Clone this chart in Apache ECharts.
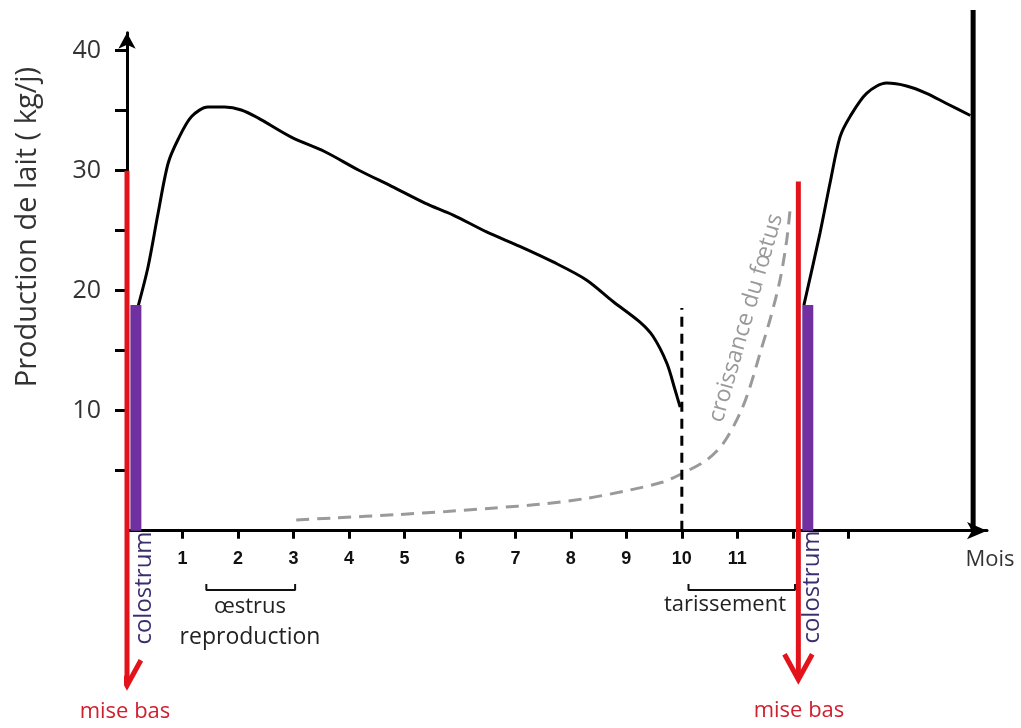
<!DOCTYPE html>
<html><head><meta charset="utf-8">
<script src="https://cdn.jsdelivr.net/npm/echarts@6/dist/echarts.min.js"></script>
<style>html,body{margin:0;padding:0;background:#fff}#c{width:1021px;height:728px}</style>
</head><body><div id="c"></div>
<script>
// ---- data ----
const monthTicks = [1,2,3,4,5,6,7,8,9,10,11,12,13];
const monthLabels = [1,2,3,4,5,6,7,8,9,10,11];
const yTicks = [5,10,15,20,25,30,35,40];
const yLabels = [10,20,30,40];
const lactation1 = [[0.2,18.7],[0.38,22],[0.56,26.45],[0.74,30.6],[0.92,32.6],[1.16,34.5],[1.46,35.3],[1.76,35.3],[2.06,35.06],[2.36,34.4],[2.96,32.8],[3.56,31.6],[4.17,30.06],[4.77,28.7],[5.37,27.3],[5.88,26.3],[6.48,24.9],[7.08,23.7],[7.68,22.4],[8.28,20.9],[8.76,19.1],[9.24,17.4],[9.48,16.2],[9.73,13.95],[9.88,11.7],[9.97,10.3]];
const lactation2 = [[12.2,18.8],[12.49,24.8],[12.67,28.95],[12.85,32.8],[13.03,34.5],[13.33,36.45],[13.69,37.3],[14.05,37.06],[14.41,36.45],[14.77,35.6],[15.2,34.6]];
const foetusGrowth = [[3.05,0.9],[3.7,1.05],[4.9,1.35],[5.76,1.6],[6.63,1.9],[7.44,2.2],[8.29,2.7],[9.07,3.4],[9.66,4.06],[10.02,4.8],[10.45,5.9],[10.75,7.3],[11.05,9.8],[11.23,12],[11.41,14.8],[11.59,17.6],[11.77,20.9],[11.89,24.2],[11.95,26.7]];
const birthMonths = [0, 12.1];
const birthTop = [30, 29.1];
const birthTip = [-12.9, -12.4];
const colostrumMonths = [0.16, 12.27];
const colostrumTop = [18.8, 18.8];
const dryOffMonth = 10;
const dryOffTop = 18.55;
const endMonth = 15.25;
const endTop = 43.4;
const oestrusRange = [1.43, 3.03];
const dryingRange = [10.12, 12.04];

// ---- chart ----
const RED = '#e3131b', PURPLE = '#7030a0', TXT = "'Open Sans', Lato, sans-serif";
const series = [];
const line = (data, style, extra) => Object.assign({type:'line', data, symbol:'none', silent:true, lineStyle:style, z:3}, extra||{});

series.push(line(lactation1, {color:'#000', width:3}, {smooth:0.3}));
series.push(line(lactation2, {color:'#000', width:3}, {smooth:0.3}));
series.push(line(foetusGrowth, {color:'#9a9a9a', width:3, type:[13,8]}, {smooth:0.3}));
series.push(line([[dryOffMonth,0],[dryOffMonth,dryOffTop]], {color:'#000', width:3, type:[10,7]}));
series.push(line([[endMonth,0],[endMonth,endTop]], {color:'#000', width:5, cap:'butt'}, {clip:false}));
birthMonths.forEach((m,i)=>{
  series.push(line([[m,birthTop[i]],[m,birthTip[i]+0.3]], {color:RED, width:5, cap:'butt'}, {clip:false, z:4}));
  series.push(line([[m-0.25,birthTip[i]+2.1],[m,birthTip[i]],[m+0.25,birthTip[i]+2.1]], {color:RED, width:5, join:'miter'}, {clip:false, z:4}));
});
colostrumMonths.forEach((m,i)=>{
  series.push(line([[m,0],[m,colostrumTop[i]]], {color:PURPLE, width:11, cap:'butt'}, {z:5}));
});
const bracketY = -4.95, bracketTick = 0.5;
[oestrusRange, dryingRange].forEach(r=>{
  series.push(line([[r[0],bracketY+bracketTick],[r[0],bracketY],[r[1],bracketY],[r[1],bracketY+bracketTick]], {color:'#111', width:2}, {clip:false}));
});

const txt = (text, x, y, size, color, rot, extra) => ({
  type:'text', x, y, rotation: rot||0, z:10,
  style: Object.assign({text, font: size+'px '+TXT, fill: color, align:'center', verticalAlign:'middle'}, extra||{})
});

const chart = echarts.init(document.getElementById('c'), null, {renderer:'canvas'});
chart.setOption({
  animation:false,
  backgroundColor:'#fff',
  grid:{left:127, right:34, top:32.7, bottom:197.3, containLabel:false},
  xAxis:{
    type:'value', min:0, max:15.5,
    splitLine:{show:false},
    axisLine:{lineStyle:{color:'#000', width:3}, symbol:['none','arrow'], symbolSize:[13,20]},
    axisTick:{customValues:monthTicks, length:8, lineStyle:{color:'#000', width:3}},
    axisLabel:{customValues:monthLabels, margin:19, fontSize:18, fontWeight:'bold', fontFamily:"'Liberation Sans', Arial, sans-serif", color:'#111'}
  },
  yAxis:{
    type:'value', min:0, max:41.5,
    splitLine:{show:false},
    axisLine:{lineStyle:{color:'#000', width:3}, symbol:['none','arrow'], symbolSize:[13,16]},
    axisTick:{customValues:yTicks, length:12, lineStyle:{color:'#000', width:3}},
    axisLabel:{customValues:yLabels, margin:26, fontSize:25, fontFamily:TXT, color:'#333'}
  },
  series,
  graphic:[
    txt('Production de lait ( kg/j)', 28, 227, 29, '#333', Math.PI/2),
    txt('Mois', 990, 560, 22, '#333'),
    txt('œstrus', 250, 607, 22, '#222'),
    txt('reproduction', 250, 637, 23, '#222'),
    txt('tarissement', 725, 605, 22, '#222'),
    txt('mise bas', 125, 712, 22, '#cf2030'),
    txt('mise bas', 799, 711, 22, '#cf2030'),
    txt('colostrum', 144, 588, 24, '#3b2d6e', Math.PI/2),
    txt('colostrum', 812, 587, 24, '#3b2d6e', Math.PI/2),
    txt('croissance du fœtus', 746, 318, 23, '#999', 1.288)
  ]
});
</script>
</body></html>
